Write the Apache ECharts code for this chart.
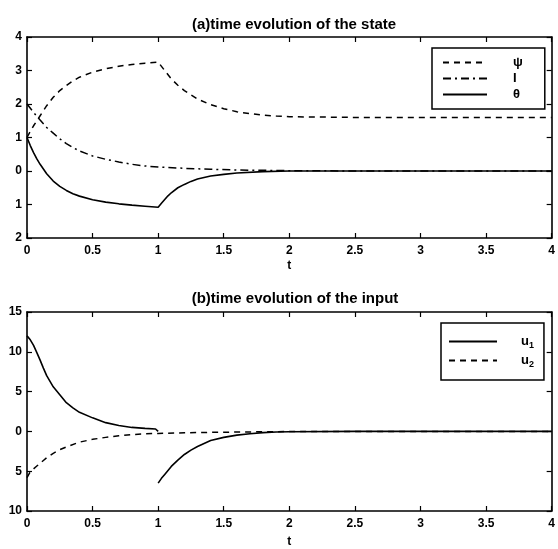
<!DOCTYPE html>
<html>
<head>
<meta charset="utf-8">
<script src="https://cdn.jsdelivr.net/npm/echarts@6/dist/echarts.min.js"></script>
<style>
html,body{margin:0;padding:0;background:#fff;}
#chart{width:558px;height:549px;}
</style>
</head>
<body>
<div id="chart"></div>
<script>
// ---------- data ----------
const xTicks = [0, 0.5, 1, 1.5, 2, 2.5, 3, 3.5, 4];
const titleA = '(a)time evolution of the state';
const titleB = '(b)time evolution of the input';

// panel (a)
const tPsi = [0, 0.025, 0.05, 0.075, 0.1, 0.15, 0.2, 0.25, 0.3, 0.35, 0.4, 0.5, 0.6, 0.7, 0.8, 0.9, 1.0, 1.05, 1.1, 1.15, 1.2, 1.3, 1.4, 1.5, 1.6, 1.7, 1.8, 1.9, 2.0, 2.5, 3, 3.5, 4];
const psi  = [1.0, 1.18, 1.35, 1.5, 1.65, 1.95, 2.2, 2.4, 2.55, 2.69, 2.8, 2.95, 3.05, 3.13, 3.18, 3.22, 3.25, 3.0, 2.75, 2.56, 2.4, 2.15, 1.98, 1.86, 1.77, 1.71, 1.67, 1.64, 1.62, 1.6, 1.6, 1.6, 1.6];

const tI = [0, 0.05, 0.1, 0.15, 0.2, 0.25, 0.3, 0.35, 0.4, 0.5, 0.6, 0.7, 0.8, 0.9, 1.0, 1.2, 1.4, 1.6, 1.8, 2.0, 2.5, 3, 3.5, 4];
const I  = [2.0, 1.75, 1.52, 1.3, 1.13, 0.96, 0.82, 0.7, 0.6, 0.45, 0.35, 0.27, 0.2, 0.15, 0.12, 0.08, 0.05, 0.03, 0.02, 0.01, 0, 0, 0, 0];

const tTheta = [0, 0.025, 0.05, 0.075, 0.1, 0.15, 0.2, 0.25, 0.3, 0.35, 0.4, 0.5, 0.6, 0.7, 0.8, 0.9, 1.0, 1.025, 1.05, 1.075, 1.1, 1.15, 1.2, 1.25, 1.3, 1.4, 1.5, 1.6, 1.8, 2.0, 2.5, 3, 3.5, 4];
const theta  = [1.0, 0.76, 0.55, 0.36, 0.2, -0.08, -0.3, -0.46, -0.58, -0.68, -0.75, -0.86, -0.93, -0.98, -1.02, -1.05, -1.08, -0.96, -0.85, -0.74, -0.65, -0.5, -0.4, -0.31, -0.24, -0.15, -0.1, -0.06, -0.02, 0, 0, 0, 0, 0];

// panel (b)
const tU1 = [0, 0.025, 0.05, 0.075, 0.1, 0.125, 0.15, 0.2, 0.25, 0.3, 0.35, 0.4, 0.5, 0.6, 0.7, 0.8, 0.9, 0.98, 1.0, 1.0, 1.0, 1.025, 1.05, 1.075, 1.1, 1.15, 1.2, 1.25, 1.3, 1.4, 1.5, 1.6, 1.7, 1.8, 1.9, 2.0, 2.5, 3, 3.5, 4];
const u1  = [12.0, 11.5, 10.8, 9.9, 8.96, 7.95, 7.0, 5.6, 4.6, 3.6, 2.95, 2.4, 1.7, 1.1, 0.75, 0.5, 0.38, 0.3, 0.0, null, -6.5, -5.9, -5.4, -4.9, -4.4, -3.6, -2.9, -2.35, -1.9, -1.15, -0.75, -0.47, -0.3, -0.15, -0.08, -0.04, 0, 0, 0, 0];

const tU2 = [0, 0.02, 0.05, 0.075, 0.1, 0.125, 0.15, 0.2, 0.25, 0.3, 0.4, 0.5, 0.6, 0.7, 0.8, 0.9, 1.0, 1.2, 1.4, 1.6, 1.8, 2.0, 2.5, 3, 3.5, 4];
const u2  = [-5.8, -5.2, -4.7, -4.35, -4.0, -3.65, -3.3, -2.75, -2.3, -1.95, -1.35, -1.0, -0.75, -0.55, -0.4, -0.3, -0.25, -0.18, -0.12, -0.08, -0.05, -0.02, 0, 0, 0, 0];

// ---------- chart ----------
const pair = (t, v) => t.map((x, i) => [x, v[i] === null ? '-' : v[i]]);
const FONT = 'Liberation Sans, Arial, sans-serif';
const axisLine = {show: true, onZero: false, lineStyle: {color: '#000', width: 1.6}};
const tickIn = {show: true, inside: true, length: 5, lineStyle: {color: '#000', width: 1.2}};
const lbl = {color: '#000', fontFamily: FONT, fontWeight: 'bold', fontSize: 12};

function xAx(gi, pos, show) {
  return {
    type: 'value', gridIndex: gi, position: pos, min: 0, max: 4, interval: 0.5,
    axisLine: axisLine, axisTick: tickIn, splitLine: {show: false},
    axisLabel: show ? Object.assign({margin: 7, formatter: v => String(v)}, lbl) : {show: false},
    name: show ? 't' : '', nameLocation: 'middle', nameGap: gi === 0 ? 22 : 25,
    nameTextStyle: {color: '#000', fontFamily: FONT, fontWeight: 'bold', fontSize: 12}
  };
}
function yAx(gi, pos, show, mn, mx, iv) {
  return {
    type: 'value', gridIndex: gi, position: pos, min: mn, max: mx, interval: iv,
    axisLine: axisLine, axisTick: tickIn, splitLine: {show: false},
    axisLabel: show ? Object.assign({margin: 5, formatter: v => String(Math.abs(v))}, lbl) : {show: false}
  };
}
const lineSer = (name, xi, yi, data, type, w) => ({
  name: name, type: 'line', xAxisIndex: xi, yAxisIndex: yi, data: data,
  showSymbol: false, symbol: 'none', connectNulls: false, animation: false,
  lineStyle: {color: '#000', width: w, type: type},
  itemStyle: {color: '#000'}
});

const option = {
  backgroundColor: '#fff',
  animation: false,
  title: [
    {text: titleA, left: 289, top: 12, textAlign: 'center',
     textStyle: {fontFamily: FONT, fontSize: 15, fontWeight: 'bold', color: '#000'}},
    {text: titleB, left: 290, top: 286, textAlign: 'center',
     textStyle: {fontFamily: FONT, fontSize: 15, fontWeight: 'bold', color: '#000'}}
  ],
  grid: [
    {left: 27, top: 37, right: 2, height: 201},
    {left: 27, top: 312, right: 2, height: 201}
  ],
  xAxis: [xAx(0, 'bottom', true), xAx(0, 'top', false), xAx(1, 'bottom', true), xAx(1, 'top', false)],
  yAxis: [yAx(0, 'left', true, -2, 4, 1), yAx(0, 'right', false, -2, 4, 1),
          yAx(1, 'left', true, -10, 15, 5), yAx(1, 'right', false, -10, 15, 5)],
  legend: [
    {data: ['ψ', 'I', 'θ'], orient: 'vertical', left: 432, top: 48,
     itemWidth: 44, itemHeight: 14, itemGap: 3,
     itemStyle: {opacity: 0, borderWidth: 0},
     padding: [8, 22, 8, 10], borderColor: '#000', borderWidth: 1.5, backgroundColor: '#fff',
     selectedMode: false,
     textStyle: {color: '#000', fontFamily: FONT, fontWeight: 'bold', fontSize: 13, padding: [0, 0, 0, 21]}},
    {data: ['u1', 'u2'], orient: 'vertical', left: 441, top: 323,
     itemWidth: 48, itemHeight: 14, itemGap: 4,
     itemStyle: {opacity: 0, borderWidth: 0},
     padding: [12, 10, 11, 7], borderColor: '#000', borderWidth: 1.5, backgroundColor: '#fff',
     selectedMode: false,
     formatter: n => '{a|u}{s|' + n.slice(1) + '}',
     textStyle: {color: '#000', fontFamily: FONT, fontWeight: 'bold', fontSize: 12, padding: [0, 0, 0, 19],
       rich: {a: {fontFamily: FONT, fontWeight: 'bold', fontSize: 13, color: '#000'},
              s: {fontFamily: FONT, fontWeight: 'bold', fontSize: 9, color: '#000', padding: [8, 0, 0, 0]}}}}
  ],
  series: [
    lineSer('ψ', 0, 0, pair(tPsi, psi), [6, 5], 1.5),
    lineSer('I', 0, 0, pair(tI, I), [8, 4, 2, 4], 1.5),
    lineSer('θ', 0, 0, pair(tTheta, theta), 'solid', 1.6),
    lineSer('u1', 2, 2, pair(tU1, u1), 'solid', 1.6),
    lineSer('u2', 2, 2, pair(tU2, u2), [6, 5], 1.5)
  ]
};
const chart = echarts.init(document.getElementById('chart'), null, {renderer: 'canvas'});
chart.setOption(option);
</script>
</body>
</html>
